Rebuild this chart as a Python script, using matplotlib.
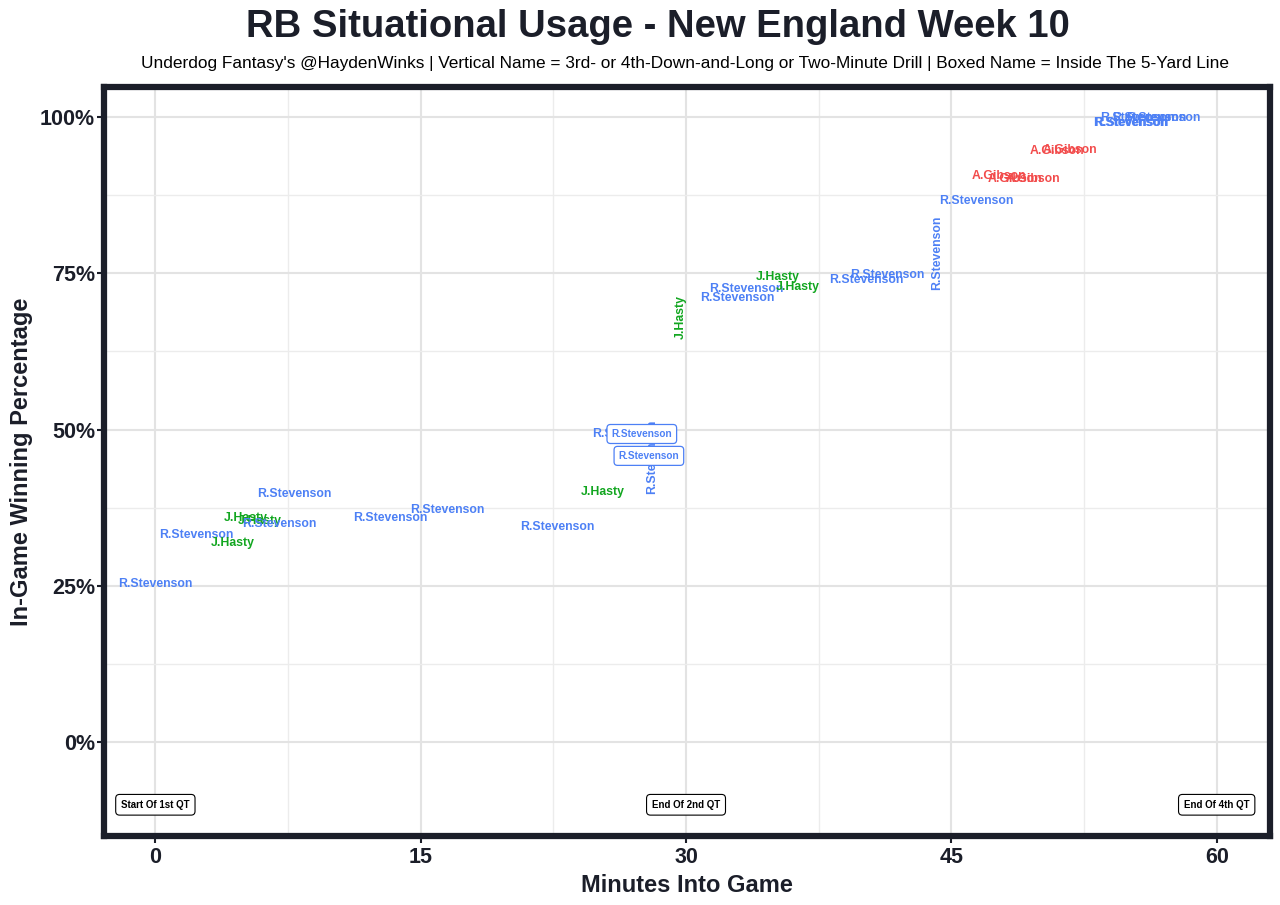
import matplotlib

matplotlib.use('Agg')
import matplotlib.pyplot as plt

plt.rcParams['font.family'] = ['Liberation Sans', 'DejaVu Sans']

# plays: player, minutes into game, win prob (%), label style
players = ['R.Stevenson', 'R.Stevenson', 'J.Hasty', 'J.Hasty', 'J.Hasty', 'R.Stevenson',
           'R.Stevenson', 'R.Stevenson', 'R.Stevenson', 'R.Stevenson', 'J.Hasty', 'R.Stevenson',
           'R.Stevenson', 'R.Stevenson', 'R.Stevenson', 'J.Hasty', 'R.Stevenson', 'R.Stevenson',
           'J.Hasty', 'J.Hasty', 'R.Stevenson', 'R.Stevenson', 'R.Stevenson', 'R.Stevenson',
           'A.Gibson', 'A.Gibson', 'A.Gibson', 'A.Gibson', 'A.Gibson',
           'R.Stevenson', 'R.Stevenson', 'R.Stevenson', 'R.Stevenson', 'R.Stevenson']
minutes = [0.0, 2.3, 4.4, 5.1, 5.9, 7.0,
           7.85, 13.3, 16.5, 22.7, 25.3, 26.8,
           28.1, 27.5, 27.9, 29.7, 33.4, 32.9,
           35.2, 36.3, 40.2, 41.4, 44.2, 46.4,
           47.7, 48.6, 49.6, 51.0, 51.7,
           55.1, 55.2, 55.5, 56.2, 57.0]
win_pct = [25.3, 33.1, 31.8, 35.8, 35.4, 34.9,
           39.7, 35.8, 37.1, 34.4, 40.0, 49.3,
           45.6, 49.3, 45.8, 68.0, 72.5, 71.0,
           74.4, 72.8, 73.9, 74.7, 78.2, 86.6,
           90.6, 90.1, 90.1, 94.6, 94.7,
           99.0, 99.1, 99.8, 99.9, 99.8]
# 'n' = normal, 'v' = vertical (3rd/4th & long or 2-min drill), 'b' = boxed (inside 5)
styles = ['n', 'n', 'n', 'n', 'n', 'n',
          'n', 'n', 'n', 'n', 'n', 'n',
          'v', 'b', 'b', 'v', 'n', 'n',
          'n', 'n', 'n', 'n', 'v', 'n',
          'n', 'n', 'n', 'n', 'n',
          'n', 'n', 'n', 'n', 'n']

quarter_labels = ['Start Of 1st QT', 'End Of 2nd QT', 'End Of 4th QT']
quarter_minutes = [0, 30, 60]

colors = {'R.Stevenson': '#4D80F5', 'J.Hasty': '#12A620', 'A.Gibson': '#F24B4B'}
dark = '#1B1E29'

fig = plt.figure(figsize=(12.8, 9.05), dpi=100)
ax = fig.add_axes([0.0813, 0.0762, 0.9107, 0.8277])
ax.set_xlim(-2.9, 63.0)
ax.set_ylim(-15, 104.8)

for name, x, y, s in zip(players, minutes, win_pct, styles):
    c = colors[name]
    if s == 'v':
        ax.text(x, y, name, color=c, fontsize=8.8, fontweight='bold', rotation=90,
                ha='center', va='center', zorder=3)
    elif s == 'b':
        ax.text(x, y, name, color=c, fontsize=7.2, fontweight='bold', ha='center', va='center',
                zorder=4, bbox=dict(boxstyle='round,pad=0.45,rounding_size=0.35', fc='white',
                                    ec=c, lw=0.9))
    else:
        ax.text(x, y, name, color=c, fontsize=8.8, fontweight='bold',
                ha='center', va='center', zorder=3)

for lab, m in zip(quarter_labels, quarter_minutes):
    ax.text(m, -10, lab, color='black', fontsize=7, fontweight='bold', ha='center', va='center',
            bbox=dict(boxstyle='round,pad=0.55,rounding_size=0.4', fc='white', ec='black', lw=0.8))

ax.set_xticks([0, 15, 30, 45, 60])
ax.set_xticks([7.5, 22.5, 37.5, 52.5], minor=True)
ax.set_yticks([0, 25, 50, 75, 100])
ax.set_yticks([12.5, 37.5, 62.5, 87.5], minor=True)
ax.set_yticklabels(['0%', '25%', '50%', '75%', '100%'])
ax.grid(which='major', color='#E3E3E3', lw=1.5)
ax.grid(which='minor', color='#ECECEC', lw=1.0)
ax.set_axisbelow(True)
ax.tick_params(which='major', length=5, width=1.5, color=dark, labelcolor=dark, labelsize=15.5)
ax.tick_params(axis='x', pad=3)
ax.tick_params(axis='y', pad=1.5)
ax.tick_params(which='minor', length=0)
for lab in ax.get_xticklabels() + ax.get_yticklabels():
    lab.set_fontweight('bold')
for sp in ax.spines.values():
    sp.set_color(dark)
    sp.set_linewidth(4.5)

ax.set_xlabel('Minutes Into Game', fontsize=17, fontweight='bold', color=dark, labelpad=4)
ax.set_ylabel('In-Game Winning Percentage', fontsize=17, fontweight='bold', color=dark, labelpad=5)

fig.text(0.514, 0.970, 'RB Situational Usage - New England Week 10', ha='center', va='center',
         fontsize=27.5, fontweight='bold', color=dark)
fig.text(0.5355, 0.930, "Underdog Fantasy's @HaydenWinks | Vertical Name = 3rd- or 4th-Down-and-Long or "
         "Two-Minute Drill | Boxed Name = Inside The 5-Yard Line", ha='center', va='center',
         fontsize=12.4, color='black')

fig.savefig('out.png', dpi=100)
